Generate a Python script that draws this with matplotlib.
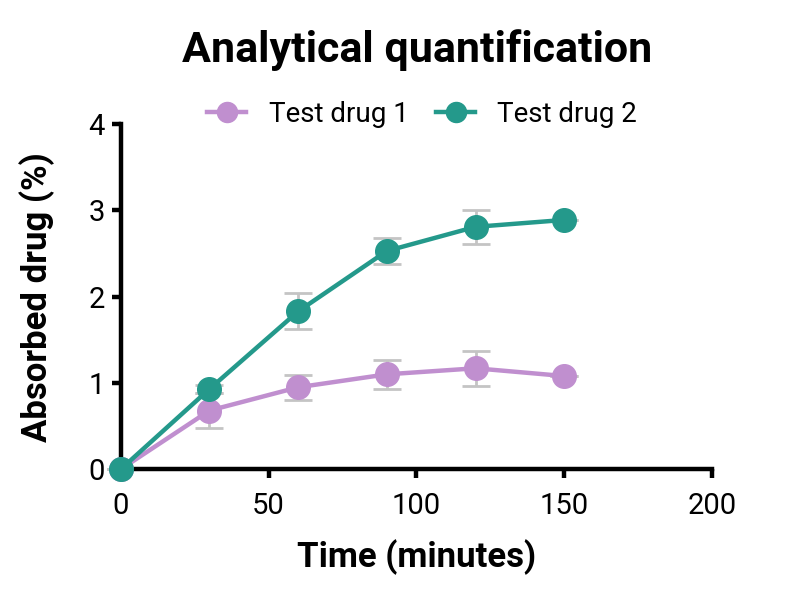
import matplotlib.pyplot as plt

# Data
time_min = [0, 30, 60, 90, 120, 150]
drug1_mean = [0.0, 0.68, 0.95, 1.10, 1.17, 1.08]
drug1_err = [0.0, 0.20, 0.145, 0.17, 0.20, 0.0]
drug2_mean = [0.0, 0.93, 1.83, 2.53, 2.81, 2.89]
drug2_err = [0.0, 0.05, 0.21, 0.15, 0.20, 0.0]

purple = "#c08fcf"
teal = "#24998b"
err_color = "#c4c4c4"

plt.rcParams["font.family"] = ["Roboto", "DejaVu Sans"]

fig = plt.figure(figsize=(8, 6), dpi=100)
ax = fig.add_axes([0.151, 0.218, 0.739, 0.575])

for mean, err, color, label in [
    (drug1_mean, drug1_err, purple, "Test drug 1"),
    (drug2_mean, drug2_err, teal, "Test drug 2"),
]:
    ax.errorbar(time_min, mean, yerr=err, fmt="none", ecolor=err_color,
                elinewidth=2, capsize=10, capthick=2, zorder=2, clip_on=False)
    ax.plot(time_min, mean, color=color, lw=3.2, marker="o", markersize=17,
            label=label, zorder=3, clip_on=False)

ax.set_xlim(0, 200)
ax.set_ylim(0, 4)
ax.set_xticks([0, 50, 100, 150, 200])
ax.set_yticks([0, 1, 2, 3, 4])

for side in ["top", "right"]:
    ax.spines[side].set_visible(False)
for side in ["left", "bottom"]:
    ax.spines[side].set_linewidth(3.2)
ax.tick_params(width=3.2, length=6.5, labelsize=21)
ax.tick_params(axis="x", pad=10)
ax.tick_params(axis="y", pad=5)

ax.set_xlabel("Time (minutes)", fontsize=25, fontweight="bold", labelpad=14)
ax.set_ylabel("Absorbed drug (%)", fontsize=25, fontweight="bold", labelpad=24)

fig.text(0.521, 0.917, "Analytical quantification", fontsize=31,
         fontweight="bold", ha="center", va="center")

ax.legend(loc="center", bbox_to_anchor=(0.51, 1.028), ncol=2,
          frameon=False, fontsize=20, markerscale=0.85, handlelength=1.4,
          columnspacing=1.0, handletextpad=0.8)

fig.savefig("out.png", dpi=100)
